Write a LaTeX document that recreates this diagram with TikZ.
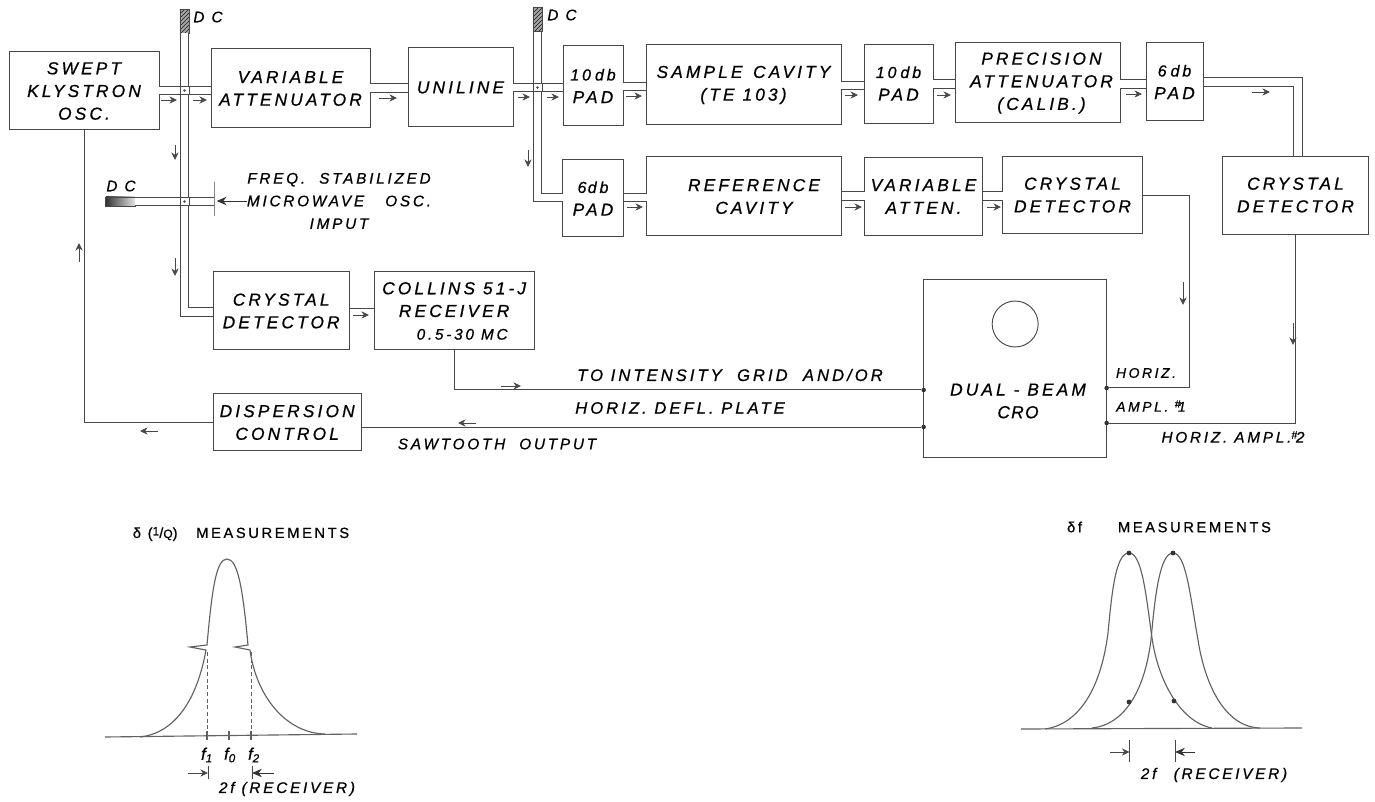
\documentclass[tikz,border=0pt]{standalone}
\usepackage{fontspec}
\setmainfont{Liberation Sans}[LetterSpace=18,FakeBold=0.7]
\usepackage{xcolor}
\usetikzlibrary{arrows.meta,positioning,patterns}
\colorlet{inkline}{black!72}
\newcommand{\padsize}{\fontsize{12}{17}\selectfont}
\tikzset{
  block/.style={draw=inkline, line width=.75pt, align=center, inner sep=0pt, outer sep=0pt,
                font=\fontsize{13}{17}\selectfont\itshape},
  boxsize/.style 2 args={minimum width=#1*.75pt, minimum height=#2*.75pt},
  caption/.style={align=center, inner sep=0pt, text=black,
                font=\fontsize{11.5}{17}\selectfont\itshape},
  guide/.style={draw=inkline, line width=.7pt, double=white, double distance=5.6pt},
  wire/.style={draw=inkline, line width=.75pt},
  trace/.style={draw=black!62, line width=.85pt},
  dirmark/.style={-{Stealth[length=2mm,width=1.9mm]}, draw=black!72, line width=.5pt},
  bigmark/.style={-{Stealth[length=2.6mm,width=2.2mm]}, draw=black!80, line width=.7pt},
  tap/.style={draw=inkline, fill=white, line width=.6pt, minimum size=6.6pt, inner sep=0pt},
  dotmark/.style={circle, fill=black!80, inner sep=0pt, minimum size=3.4pt},
  load/.style={draw=inkline, line width=.6pt, inner sep=0pt, outer sep=0pt},
}
\begin{document}
\begin{tikzpicture}[x=.75pt, y=-.75pt]
  \useasboundingbox (0,0) rectangle (1375,802);
  % Top row
  \node[block, boxsize={150}{78}] (klystron) at (84,91) {SWEPT\\ KLYSTRON\hspace{7pt}\\ OSC.\hspace{5pt}};
  \node[block, boxsize={159}{79}, right=39pt of klystron, yshift=1.9pt] (varatt) {VARIABLE\\ ATTENUATOR};
  \node[block, boxsize={105}{79}, right=28.5pt of varatt, yshift=.75pt] (uniline) {UNILINE};
  \node[block, boxsize={60}{80}, right=37.5pt of uniline, yshift=1.1pt] (pada) {{\padsize 10\kern3pt db}\\ PAD};
  \node[block, boxsize={195}{80}, right=17.25pt of pada, yshift=.75pt] (sample) {SAMPLE\ \kern2pt CAVITY\\ (TE 103)};
  \node[block, boxsize={69}{79}, right=17.25pt of sample, yshift=1.1pt] (padb) {{\padsize 10\kern3pt db}\\ PAD};
  \node[block, boxsize={165}{80}, right=16.5pt of padb, yshift=.4pt] (precision) {\hspace{6pt}PRECISION\\ \hspace{6pt}ATTENUATOR\\ \hspace{6pt}(CALIB.)};
  \node[block, boxsize={57}{78}, right=19.5pt of precision, yshift=.75pt] (padc) {{\padsize 6\kern3pt db}\\ PAD};
  % Second row
  \node[block, boxsize={61}{77}, below=25.5pt of pada] (padd) {{\padsize 6\kern1pt db}\\ PAD};
  \node[block, boxsize={195}{79}, right=17.25pt of padd, yshift=1.5pt] (reference) {\hspace{15pt}REFERENCE\\ \hspace{15pt}CAVITY};
  \node[block, boxsize={118}{78}, right=17.25pt of reference] (varb) {VARIABLE\\ ATTEN.};
  \node[block, boxsize={140}{77}, right=15pt of varb, yshift=1.1pt] (crystalb) {CRYSTAL\\ DETECTOR};
  \node[block, boxsize={146}{78}, right=60pt of crystalb] (crystalc) {CRYSTAL\\ DETECTOR};
  % Lower blocks
  \node[block, boxsize={136}{78}, below=108pt of varatt, xshift=-7pt] (crystala) {CRYSTAL\\ DETECTOR};
  \node[block, boxsize={160}{78}, right=18.75pt of crystala] (collins) {COLLINS\ 51-J\\ RECEIVER\\ \hspace{12pt}{\fontsize{11.5}{17}\selectfont 0.5-30 MC}};
  \node[block, boxsize={148}{57}, below=33pt of crystala, xshift=4.5pt] (dispersion) {DISPERSION\\ CONTROL};
  \node[block, boxsize={183}{178}, below=34.5pt of crystalb, xshift=-43pt] (cro) {};
  \node[draw=inkline, line width=.7pt, circle, minimum size=34.5pt, inner sep=0pt,
        below=15.75pt of cro.north] (screen) {};
  \node[block, draw=none] (crolabel) at (1018,401) {DUAL\ -\ BEAM\\ C\kern1pt R\kern1pt O};
  % DC ends and plate
  \node[load, minimum width=6.8pt, minimum height=17.5pt, preaction={fill=black!35}, pattern=north east lines,
        pattern color=black!90] (dca) at (184.5,21.5) {};
  \node[load, minimum width=6.8pt, minimum height=18.5pt, preaction={fill=black!35}, pattern=north east lines,
        pattern color=black!90] (dcb) at (537.5,19.5) {};
  \node[load, minimum width=22pt, minimum height=6.8pt, left color=black!80, right color=black!10]
        (dcc) at (120.5,201.5) {};
  \node[load, minimum width=0pt, minimum height=25.5pt] (plate) at (214,199) {};
  \node[caption] (dcalabel) at (208,17) {D C};
  \node[caption] (dcblabel) at (562,15) {D C};
  \node[caption] (dcclabel) at (121,186) {D C};
  \node[caption] (freqlabel) at (339,201) {FREQ.\ \ STABILIZED\\ MICROWAVE\ \ \ OSC.\\ IMPUT\hspace{50pt}};
  % Waveguide runs
  \draw[guide] (klystron.east |- 0,90.5) -- (varatt.west |- 0,90.5);
  \draw[guide] (varatt.east |- 0,88) -- (uniline.west |- 0,88);
  \draw[guide] (uniline.east |- 0,87.5) -- (pada.west |- 0,87.5);
  \draw[guide] (pada.east |- 0,86.5) -- (sample.west |- 0,86.5);
  \draw[guide] (sample.east |- 0,85.5) -- (padb.west |- 0,85.5);
  \draw[guide] (padb.east |- 0,84) -- (precision.west |- 0,84);
  \draw[guide] (precision.east |- 0,84) -- (padc.west |- 0,84);
  \draw[wire] (padc.east |- 0,78) -| ([xshift=5.25pt]crystalc.north);
  \draw[wire] (padc.east |- 0,87) -| ([xshift=-1.5pt]crystalc.north);
  \draw[guide] (padd.east |- 0,197.5) -- (reference.west |- 0,197.5);
  \draw[guide] (reference.east |- 0,196) -- (varb.west |- 0,196);
  \draw[guide] (varb.east |- 0,196) -- (crystalb.west |- 0,196);
  \draw[guide] (dcc.east) -- (plate.center |- dcc.east);
  \draw[guide] (dca.south) |- (crystala.west |- 0,312);
  \draw[guide] (dcb.south) |- (padd.west |- 0,197.5);
  \node[tap] (tapa) at (184.5,90.5) {};
  \node[tap] (tapb) at (184.5,201.5) {};
  \node[tap] (tapc) at (537.5,87.5) {};
  \foreach \tapname in {tapa,tapb,tapc}
    \fill[black!70] (\tapname) circle (1.1pt);
  % Signal lines
  \node[dotmark] (croa) at (cro.west |- 0,390) {};
  \node[dotmark] (crob) at (cro.west |- 0,427) {};
  \node[dotmark] (croc) at (cro.east |- 0,388) {};
  \node[dotmark] (crod) at (cro.east |- 0,423) {};
  \coordinate (bendb) at (1189,388);
  \draw[wire] (klystron.south) |- (dispersion.west);
  \draw[wire] (crystala.east |- 0,309) -- (collins.west |- 0,309);
  \draw[wire] (collins.south) |- (croa);
  \draw[wire] (dispersion.east |- crob) -- (crob);
  \draw[wire] (crystalb.east) -| (bendb) -- (croc);
  \draw[wire] (crystalc.south) |- (crod);
  \draw[bigmark, shorten >=2pt] (freqlabel.west) -- (plate.center |- freqlabel.west);
  % Direction marks
  \foreach \xa/\xb/\ya in {161/177/100, 193/207/100, 379/397/98, 518/530/97, 547/559/97, 626/642/96,
      845/858/95, 937/951/95, 1126/1142/94, 1252/1270/92, 627/643/207, 845/862/207, 987/1001/207,
      353/369/315, 501/521/386, 158/140/431, 476/458/423}
    \draw[dirmark] (\xa,\ya) -- (\xb,\ya);
  \foreach \xa/\ya/\yb in {175/145/160, 175/258/276, 528/150/167, 1183/282/305, 1293/323/345, 79/262/243}
    \draw[dirmark] (\xa,\ya) -- (\xa,\yb);
  % Line labels
  \node[caption, font=\fontsize{12.5}{17}\selectfont\itshape] (gridlabel) at (730,375) {TO\ INTENSITY\ \ GRID\ \ AND/OR};
  \node[caption, font=\fontsize{12.5}{17}\selectfont\itshape] (defllabel) at (680,408) {HORIZ.\ DEFL.\ PLATE};
  \node[caption] (sawlabel) at (497,444) {SAWTOOTH\ \ OUTPUT};
  \node[caption, font=\fontsize{10.5}{17}\selectfont\itshape] (horizlabel) at (1146,373) {HORIZ.};
  \node[caption, font=\fontsize{10.5}{17}\selectfont\itshape] (ampllabel) at (1151,406) {AMPL.\ \raisebox{3pt}{\footnotesize\#}\kern-2pt 1};
  \node[caption] (ampltwolabel) at (1233,437) {HORIZ. AMPL.\raisebox{3pt}{\footnotesize\#}\kern-1pt 2};
  % Left trace
  \node[caption, font=\fontsize{11}{13}\selectfont] (qhead) at (241,534)
    {δ\ (\raisebox{2pt}{\small 1}/{\small Q})\hspace{14pt}MEASUREMENTS};
  \coordinate (basea) at (105,737);
  \coordinate (baseb) at (357,734);
  \draw[trace] (basea) -- (baseb);
  \draw[trace] (140,737) .. controls (175,733) and (197,700) .. (206,650) -- (190,647) -- (207,645)
    .. controls (212,590) and (216,559) .. (227,559) .. controls (238,559) and (243,590) .. (248,645)
    -- (235,647) -- (250,650) .. controls (256,695) and (285,733) .. (325,734);
  \foreach \xa/\ya in {207/652, 251/652}
    \draw[trace, densely dashed, line width=.4pt] (\xa,\ya) -- (\xa,736);
  \foreach \xa in {207,229,251}
    \draw[trace] (\xa,731) -- (\xa,740);
  \node[caption, font=\fontsize{12.5}{17}\selectfont\itshape] (fone) at (207,755) {f\textsubscript{1}};
  \node[caption, font=\fontsize{12.5}{17}\selectfont\itshape] (fzero) at (230,755) {f\textsubscript{0}};
  \node[caption, font=\fontsize{12.5}{17}\selectfont\itshape] (ftwo) at (254,755) {f\textsubscript{2}};
  \coordinate (gapa) at (208,773);
  \coordinate (gapb) at (252,773);
  \draw[wire, line width=.7pt] (208,766) -- (208,779) (252,766) -- (252,779);
  \draw[dirmark] (188,773) -- (gapa);
  \draw[bigmark] (274,773) -- (gapb);
  \node[caption] (recva) at (287,789) {2f\ (RECEIVER)};
  % Right trace
  \node[caption, font=\fontsize{11}{13}\selectfont] (fhead) at (1169,527) {δf\hspace{27pt}MEASUREMENTS};
  \coordinate (basec) at (1021,729);
  \coordinate (based) at (1302,728);
  \draw[trace] (basec) -- (based);
  \draw[trace] (1045,729) .. controls (1075,725) and (1100,695) .. (1108,633)
    .. controls (1112,590) and (1116,553) .. (1129,553) .. controls (1142,553) and (1146,595) .. (1152,638)
    .. controls (1158,680) and (1180,722) .. (1212,728);
  \draw[trace] (1092,728) .. controls (1122,725) and (1144,695) .. (1151,640)
    .. controls (1155,595) and (1160,553) .. (1173,553) .. controls (1186,553) and (1190,595) .. (1198,640)
    .. controls (1205,685) and (1225,727) .. (1260,728);
  \foreach \xa/\ya in {1129/553, 1173/553, 1129/702, 1174/701}
    \fill[black!80] (\xa,\ya) circle (1.8pt);
  \coordinate (gapc) at (1129.5,752);
  \coordinate (gapd) at (1175,752);
  \draw[wire, line width=.7pt] (1129.5,740) -- (1129.5,762) (1175,740) -- (1175,762);
  \draw[dirmark] (1110,752) -- (gapc);
  \draw[bigmark] (1195,752) -- (gapd);
  \node[caption] (recvb) at (1214,775) {2f\hspace{13pt}(RECEIVER)};
\end{tikzpicture}
\end{document}
